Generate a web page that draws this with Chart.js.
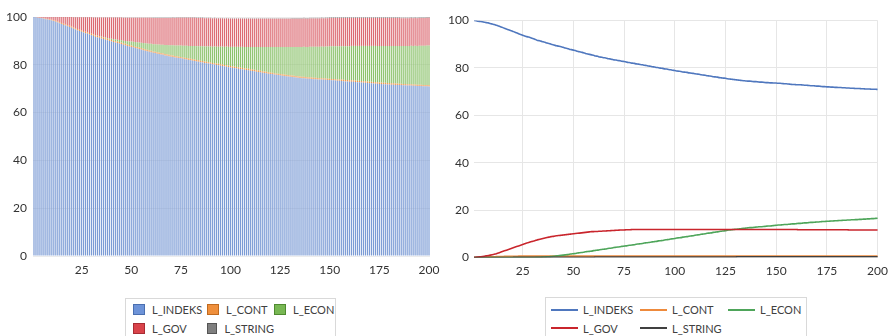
<!DOCTYPE html>
<html><head><meta charset="utf-8">
<script src="https://cdn.jsdelivr.net/npm/chart.js@4.4.1/dist/chart.umd.min.js"></script>
<style>
html,body{margin:0;padding:0;background:#fff;width:894px;height:336px;overflow:hidden;font-family:Lato,sans-serif;}
.wrap{position:absolute;top:0;height:290px;width:447px;}
#w1{left:0}
#w2{left:447px}
.legend{position:absolute;border:1px solid #d9d9d9;box-sizing:border-box;display:grid;font-size:11px;color:#404040;align-content:start;}
.item{display:flex;align-items:center;height:18.5px;white-space:nowrap;}
.sw{width:12px;height:11px;box-sizing:border-box;margin-right:7px;border:1px solid;}
.ln{width:27px;height:0;border-top:2px solid;margin-right:5px;}
</style></head>
<body>
<div class="wrap" id="w1"><canvas id="c1" width="447" height="290"></canvas></div>
<div class="wrap" id="w2"><canvas id="c2" width="447" height="290"></canvas></div>
<div class="legend" id="lg1"></div>
<div class="legend" id="lg2"></div>
<script>
// ---- data ----
const periods = [];
for (let p = 1; p <= 200; p++) periods.push(p);
const tickLabels = [25, 50, 75, 100, 125, 150, 175, 200];
const seriesNames = ['L_INDEKS', 'L_CONT', 'L_ECON', 'L_GOV', 'L_STRING'];

const indeks = [
100.0,99.9,99.7,99.6,99.5,99.3,99.1,99.0,98.7,98.5,
98.3,98.0,97.7,97.4,97.1,96.7,96.4,96.1,95.8,95.5,
95.1,94.8,94.4,94.1,93.8,93.5,93.2,93.0,92.7,92.4,
92.1,91.7,91.5,91.3,91.0,90.8,90.5,90.3,90.0,89.8,
89.5,89.3,89.1,88.9,88.7,88.4,88.2,87.9,87.7,87.5,
87.3,87.0,86.8,86.6,86.4,86.1,85.9,85.7,85.5,85.3,
85.0,84.9,84.6,84.5,84.3,84.2,83.9,83.8,83.6,83.4,
83.3,83.1,83.0,82.8,82.7,82.5,82.3,82.2,82.0,81.9,
81.7,81.6,81.4,81.3,81.1,81.0,80.8,80.7,80.5,80.4,
80.2,80.1,79.9,79.8,79.6,79.5,79.3,79.2,79.0,78.9,
78.7,78.6,78.5,78.3,78.2,78.1,77.9,77.8,77.7,77.5,
77.4,77.3,77.1,77.0,76.9,76.7,76.6,76.5,76.3,76.2,
76.1,75.9,75.8,75.7,75.6,75.4,75.3,75.2,75.1,75.0,
74.9,74.8,74.7,74.6,74.5,74.4,74.4,74.3,74.2,74.2,
74.1,74.0,74.0,73.9,73.8,73.8,73.7,73.7,73.6,73.6,
73.5,73.5,73.4,73.3,73.3,73.2,73.1,73.0,73.0,72.9,
72.9,72.9,72.8,72.7,72.7,72.6,72.5,72.5,72.4,72.3,
72.3,72.2,72.1,72.1,72.0,72.0,71.9,71.9,71.8,71.8,
71.7,71.7,71.6,71.6,71.5,71.5,71.4,71.4,71.3,71.3,
71.3,71.2,71.2,71.1,71.1,71.1,71.0,71.0,71.0,70.9];

const cont = [
0.0,0.0,0.1,0.1,0.1,0.2,0.2,0.2,0.3,0.3,
0.3,0.4,0.4,0.4,0.4,0.5,0.5,0.5,0.5,0.5,
0.5,0.5,0.6,0.6,0.6,0.6,0.6,0.6,0.6,0.6,
0.6,0.6,0.6,0.6,0.6,0.6,0.6,0.6,0.6,0.6,
0.6,0.6,0.6,0.6,0.6,0.6,0.6,0.6,0.6,0.6,
0.6,0.6,0.6,0.6,0.6,0.6,0.6,0.6,0.6,0.6,
0.6,0.6,0.6,0.6,0.6,0.6,0.6,0.6,0.6,0.6,
0.6,0.6,0.6,0.6,0.6,0.6,0.6,0.6,0.6,0.6,
0.6,0.6,0.6,0.6,0.6,0.6,0.6,0.6,0.6,0.6,
0.6,0.6,0.6,0.6,0.6,0.6,0.6,0.6,0.6,0.6,
0.6,0.6,0.6,0.6,0.6,0.6,0.6,0.6,0.6,0.6,
0.6,0.6,0.6,0.6,0.6,0.6,0.6,0.6,0.6,0.6,
0.6,0.6,0.6,0.6,0.6,0.6,0.6,0.6,0.6,0.6,
0.6,0.6,0.6,0.6,0.6,0.6,0.6,0.6,0.6,0.6,
0.6,0.6,0.6,0.6,0.6,0.6,0.6,0.6,0.6,0.6,
0.6,0.6,0.6,0.6,0.6,0.6,0.6,0.6,0.6,0.6,
0.6,0.6,0.6,0.6,0.6,0.6,0.6,0.6,0.6,0.6,
0.6,0.6,0.6,0.6,0.6,0.6,0.6,0.6,0.6,0.6,
0.6,0.6,0.6,0.6,0.6,0.6,0.6,0.6,0.6,0.6,
0.6,0.6,0.6,0.6,0.6,0.6,0.6,0.6,0.6,0.6];

const econ = [
0.0,0.0,0.0,0.0,0.0,0.0,0.0,0.0,0.0,0.0,
0.0,0.0,0.0,0.0,0.0,0.0,0.0,0.0,0.0,0.0,
0.0,0.0,0.0,0.0,0.0,0.0,0.0,0.0,0.0,0.0,
0.0,0.1,0.1,0.1,0.2,0.2,0.3,0.3,0.4,0.5,
0.6,0.7,0.8,0.9,1.0,1.1,1.2,1.4,1.5,1.6,
1.7,1.9,2.0,2.1,2.2,2.4,2.5,2.6,2.7,2.9,
3.0,3.1,3.3,3.4,3.5,3.6,3.8,3.9,4.0,4.2,
4.3,4.4,4.5,4.7,4.8,4.9,5.1,5.2,5.3,5.4,
5.6,5.7,5.8,5.9,6.1,6.2,6.3,6.4,6.6,6.7,
6.8,7.0,7.1,7.2,7.4,7.5,7.6,7.8,7.9,8.0,
8.2,8.3,8.4,8.6,8.7,8.8,9.0,9.1,9.2,9.4,
9.5,9.6,9.8,9.9,10.0,10.2,10.3,10.4,10.6,10.7,
10.8,11.0,11.1,11.2,11.3,11.5,11.6,11.7,11.8,11.9,
12.0,12.1,12.2,12.3,12.4,12.5,12.6,12.6,12.7,12.8,
12.9,13.0,13.0,13.1,13.2,13.3,13.3,13.4,13.5,13.6,
13.7,13.7,13.8,13.9,13.9,14.0,14.1,14.2,14.2,14.3,
14.4,14.4,14.5,14.6,14.6,14.7,14.8,14.8,14.9,15.0,
15.0,15.1,15.2,15.2,15.3,15.3,15.4,15.4,15.5,15.5,
15.6,15.6,15.7,15.7,15.8,15.8,15.9,15.9,16.0,16.0,
16.1,16.1,16.2,16.2,16.3,16.3,16.4,16.4,16.5,16.6];

const gov = [
0.0,0.1,0.2,0.3,0.4,0.5,0.7,0.8,1.0,1.2,
1.4,1.6,1.9,2.2,2.5,2.8,3.1,3.4,3.7,4.0,
4.3,4.6,4.9,5.2,5.5,5.8,6.1,6.3,6.6,6.9,
7.1,7.4,7.6,7.8,8.0,8.2,8.4,8.6,8.8,8.9,
9.1,9.2,9.3,9.4,9.5,9.6,9.7,9.8,9.9,10.0,
10.1,10.2,10.3,10.4,10.5,10.6,10.7,10.8,10.9,10.9,
11.0,11.0,11.1,11.1,11.2,11.2,11.3,11.3,11.4,11.4,
11.5,11.5,11.6,11.6,11.6,11.7,11.7,11.7,11.8,11.8,
11.8,11.8,11.8,11.8,11.8,11.8,11.8,11.8,11.8,11.8,
11.8,11.8,11.8,11.8,11.8,11.8,11.8,11.8,11.8,11.8,
11.8,11.8,11.8,11.8,11.8,11.8,11.8,11.8,11.8,11.8,
11.8,11.8,11.8,11.8,11.8,11.8,11.8,11.8,11.8,11.8,
11.8,11.8,11.8,11.8,11.8,11.8,11.8,11.8,11.8,11.8,
11.8,11.8,11.8,11.8,11.8,11.8,11.8,11.8,11.8,11.8,
11.8,11.8,11.8,11.8,11.8,11.8,11.8,11.8,11.8,11.8,
11.8,11.8,11.8,11.8,11.8,11.8,11.8,11.8,11.8,11.8,
11.7,11.7,11.7,11.7,11.7,11.7,11.7,11.7,11.7,11.7,
11.7,11.7,11.7,11.7,11.7,11.7,11.7,11.7,11.7,11.7,
11.7,11.7,11.7,11.7,11.7,11.6,11.6,11.6,11.6,11.6,
11.6,11.6,11.6,11.6,11.6,11.6,11.6,11.6,11.6,11.6];

const string = [
0.0,0.0,0.0,0.0,0.0,0.0,0.0,0.0,0.0,0.0,
0.0,0.0,0.0,0.0,0.0,0.0,0.0,0.0,0.0,0.0,
0.1,0.1,0.1,0.1,0.1,0.1,0.1,0.1,0.1,0.1,
0.1,0.1,0.1,0.1,0.1,0.1,0.1,0.1,0.1,0.1,
0.1,0.1,0.1,0.1,0.1,0.1,0.1,0.1,0.1,0.1,
0.1,0.1,0.1,0.1,0.1,0.1,0.1,0.1,0.1,0.1,
0.2,0.2,0.2,0.2,0.2,0.2,0.2,0.2,0.2,0.2,
0.2,0.2,0.2,0.2,0.2,0.2,0.2,0.2,0.2,0.2,
0.2,0.2,0.2,0.2,0.2,0.2,0.2,0.2,0.2,0.2,
0.2,0.2,0.2,0.2,0.2,0.2,0.2,0.2,0.2,0.2,
0.2,0.2,0.2,0.2,0.2,0.2,0.2,0.2,0.2,0.2,
0.2,0.2,0.2,0.2,0.2,0.2,0.2,0.2,0.2,0.2,
0.2,0.2,0.2,0.2,0.2,0.2,0.2,0.2,0.2,0.2,
0.3,0.3,0.3,0.3,0.3,0.3,0.3,0.3,0.3,0.3,
0.3,0.3,0.3,0.3,0.3,0.3,0.3,0.3,0.3,0.3,
0.3,0.3,0.3,0.3,0.3,0.3,0.3,0.3,0.3,0.3,
0.3,0.3,0.3,0.3,0.3,0.3,0.3,0.3,0.3,0.3,
0.3,0.3,0.3,0.3,0.3,0.3,0.3,0.3,0.3,0.3,
0.3,0.3,0.3,0.3,0.3,0.3,0.3,0.3,0.3,0.3,
0.3,0.3,0.3,0.3,0.3,0.3,0.3,0.3,0.3,0.3];

// ---- styles ----
const seriesValues = [indeks, cont, econ, gov, string];
const barColors = ['#7b9bd5', '#ee9445', '#8cc26c', '#dc6a72', '#8c8c8c'];
const boxFill = ['#6d93d8', '#ef8f3c', '#78b753', '#d9434a', '#7f7f7f'];
const boxEdge = ['#4a6fb0', '#c06a20', '#4f8a30', '#a82c33', '#555555'];
const lineColors = ['#4f77be', '#ee8a3c', '#4ea55a', '#c9252c', '#404040'];
const tickFont = {family: 'Lato', size: 12};
const tickColor = '#333333';

function xTick(v, i) {
  return tickLabels.includes(periods[i]) ? String(periods[i]) : null;
}

new Chart(document.getElementById('c1'), {
  type: 'bar',
  data: {
    labels: periods,
    datasets: seriesNames.map((n, i) => ({
      label: n, data: seriesValues[i], backgroundColor: barColors[i],
      borderWidth: 0, barPercentage: 1, categoryPercentage: 0.6
    }))
  },
  options: {
    responsive: false, animation: false,
    layout: {padding: {top: 17, right: 17, left: 0, bottom: 0}},
    plugins: {legend: {display: false}, tooltip: {enabled: false}},
    scales: {
      x: {stacked: true, grid: {display: false, drawTicks: false}, border: {display: false},
        ticks: {autoSkip: false, maxRotation: 0, padding: 7, color: tickColor, font: tickFont, callback: xTick},
        afterFit: s => { s.height = 34; }},
      y: {stacked: true, min: 0, max: 100,
        ticks: {stepSize: 20, padding: 6, color: tickColor, font: tickFont},
        grid: {color: '#ececec', drawTicks: false}, border: {display: false},
        afterFit: s => { s.width = 33; }}
    }
  }
});

new Chart(document.getElementById('c2'), {
  type: 'line',
  data: {
    labels: periods,
    datasets: seriesNames.map((n, i) => ({
      label: n, data: seriesValues[i], borderColor: lineColors[i], backgroundColor: lineColors[i],
      borderWidth: 1.6, pointRadius: 0, cubicInterpolationMode: 'monotone', fill: false, order: 5 - i
    }))
  },
  options: {
    responsive: false, animation: false,
    layout: {padding: {top: 20.5, right: 14, left: 0, bottom: 0}},
    plugins: {legend: {display: false}, tooltip: {enabled: false}},
    scales: {
      x: {offset: false, border: {display: false},
        grid: {drawTicks: false, color: c => (c.index === 199 ? 'rgba(0,0,0,0)' : '#e6e6e6')},
        ticks: {autoSkip: false, maxRotation: 0, padding: 6, color: tickColor, font: tickFont, callback: xTick},
        afterFit: s => { s.height = 32.5; }},
      y: {min: 0, max: 100,
        ticks: {stepSize: 20, padding: 5, color: tickColor, font: tickFont},
        grid: {color: '#e6e6e6', drawTicks: false}, border: {display: false},
        afterFit: s => { s.width = 27; }}
    }
  }
});

// ---- legends (HTML) ----
function buildLegend(id, box, cols, kind) {
  const el = document.getElementById(id);
  Object.assign(el.style, {left: box[0] + 'px', top: box[1] + 'px', width: box[2] + 'px', height: box[3] + 'px',
    paddingLeft: box[4] + 'px', paddingTop: box[5] + 'px', gridTemplateColumns: cols});
  seriesNames.forEach((n, i) => {
    const it = document.createElement('div');
    it.className = 'item';
    const mk = document.createElement('span');
    if (kind === 'box') {
      mk.className = 'sw'; mk.style.background = boxFill[i]; mk.style.borderColor = boxEdge[i];
    } else {
      mk.className = 'ln'; mk.style.borderTopColor = lineColors[i];
    }
    const tx = document.createElement('span');
    tx.textContent = n;
    it.appendChild(mk); it.appendChild(tx);
    el.appendChild(it);
  });
}
buildLegend('lg1', [125, 298, 211, 40, 7, 1.5], '74px 67px auto', 'box');
buildLegend('lg2', [545, 297, 262, 41, 5, 2.5], '89px 88px auto', 'line');
</script>
</body></html>
